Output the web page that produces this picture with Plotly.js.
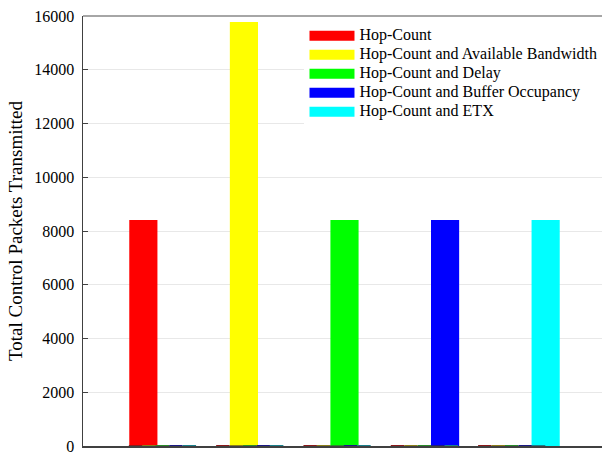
<!DOCTYPE html>
<html>
<head>
<meta charset="utf-8">
<script src="https://cdn.plot.ly/plotly-3.0.1.min.js"></script>
<style>
html,body{margin:0;padding:0;overflow:hidden;background:#fff;}
#chart{width:606px;height:452px;}
</style>
</head>
<body>
<div id="chart"></div>
<script>
// ---- data ----
var seriesNames = ['Hop-Count', 'Hop-Count and Available Bandwidth', 'Hop-Count and Delay', 'Hop-Count and Buffer Occupancy', 'Hop-Count and ETX'];
var barPositions = [1, 2, 3, 4, 5];
var totalPackets = [8410, 15780, 8410, 8410, 8410];
var zeroGroups = [1, 2, 3, 4, 5];
var zeroValues = [0, 0, 0, 0, 0];
var yTicks = [0, 2000, 4000, 6000, 8000, 10000, 12000, 14000, 16000];

// ---- styles ----
var colors = ['#ff0000', '#ffff00', '#00ff00', '#0000ff', '#00ffff'];
var edgeColors = ['#8b1a1a', '#8b7e1a', '#2a8b2a', '#1a1a85', '#1a7f8b'];
var serif = 'Times New Roman';

var traces = [];
for (var i = 0; i < seriesNames.length; i++) {
  traces.push({
    type: 'bar',
    name: seriesNames[i],
    x: [barPositions[i]],
    y: [totalPackets[i]],
    width: 0.28,
    offset: -0.14,
    marker: {color: colors[i], line: {width: 0}},
    xaxis: 'x', yaxis: 'y',
    showlegend: false,
    hoverinfo: 'skip'
  });
}
for (var j = 0; j < seriesNames.length; j++) {
  traces.push({
    type: 'bar',
    name: seriesNames[j],
    x: zeroGroups,
    y: zeroValues,
    marker: {color: colors[j], line: {width: 2, color: edgeColors[j]}},
    xaxis: 'x2', yaxis: 'y',
    showlegend: false,
    hoverinfo: 'skip'
  });
}
// legend entries
for (var k = 0; k < seriesNames.length; k++) {
  traces.push({
    type: 'scatter',
    mode: 'lines',
    name: '<span style="font-size:16px">' + seriesNames[k] + '</span>',
    x: [null], y: [null],
    line: {color: colors[k], width: 14},
    xaxis: 'x', yaxis: 'y',
    showlegend: true
  });
}

var layout = {
  width: 606,
  height: 452,
  margin: {l: 83, r: 0, t: 16, b: 6},
  paper_bgcolor: '#ffffff',
  plot_bgcolor: '#ffffff',
  barmode: 'group',
  bargap: 0.23,
  bargroupgap: 0,
  font: {family: serif, size: 15, color: '#000'},
  showlegend: true,
  legend: {
    x: 0.4235, y: 0.988, xanchor: 'left', yanchor: 'top',
    bgcolor: '#ffffff',
    borderwidth: 0,
    font: {family: serif, size: 11, color: '#000'},
    itemwidth: 45,
    tracegroupgap: 0
  },
  xaxis: {
    range: [0.4, 5.6],
    showticklabels: false,
    ticks: '',
    showgrid: false,
    zeroline: false,
    showline: true,
    linecolor: '#404040',
    linewidth: 1.5,
    layer: 'below traces',
    fixedrange: true
  },
  xaxis2: {
    range: [0.09, 6.08],
    overlaying: 'x',
    anchor: 'y',
    showticklabels: false,
    ticks: '',
    showgrid: false,
    zeroline: false,
    showline: false,
    fixedrange: true
  },
  yaxis: {
    range: [0, 16000],
    tickvals: yTicks,
    ticktext: yTicks.map(String),
    ticks: 'inside',
    ticklen: 5,
    tickcolor: '#404040',
    showline: true,
    linecolor: '#404040',
    linewidth: 1.5,
    showgrid: true,
    gridcolor: '#e8e8e8',
    gridwidth: 1,
    zeroline: false,
    ticklabeloverflow: 'allow',
    ticklabelstandoff: 4,
    tickfont: {family: serif, size: 16, color: '#000'},
    title: {text: 'Total Control Packets Transmitted', font: {family: serif, size: 19, color: '#000'}, standoff: 6},
    fixedrange: true
  },
  shapes: [{
    type: 'line', xref: 'paper', yref: 'paper',
    x0: 0, x1: 1, y0: 1, y1: 1,
    line: {color: '#888888', width: 1.5}
  }]
};

Plotly.newPlot('chart', traces, layout, {displayModeBar: false, staticPlot: true});
</script>
</body>
</html>
